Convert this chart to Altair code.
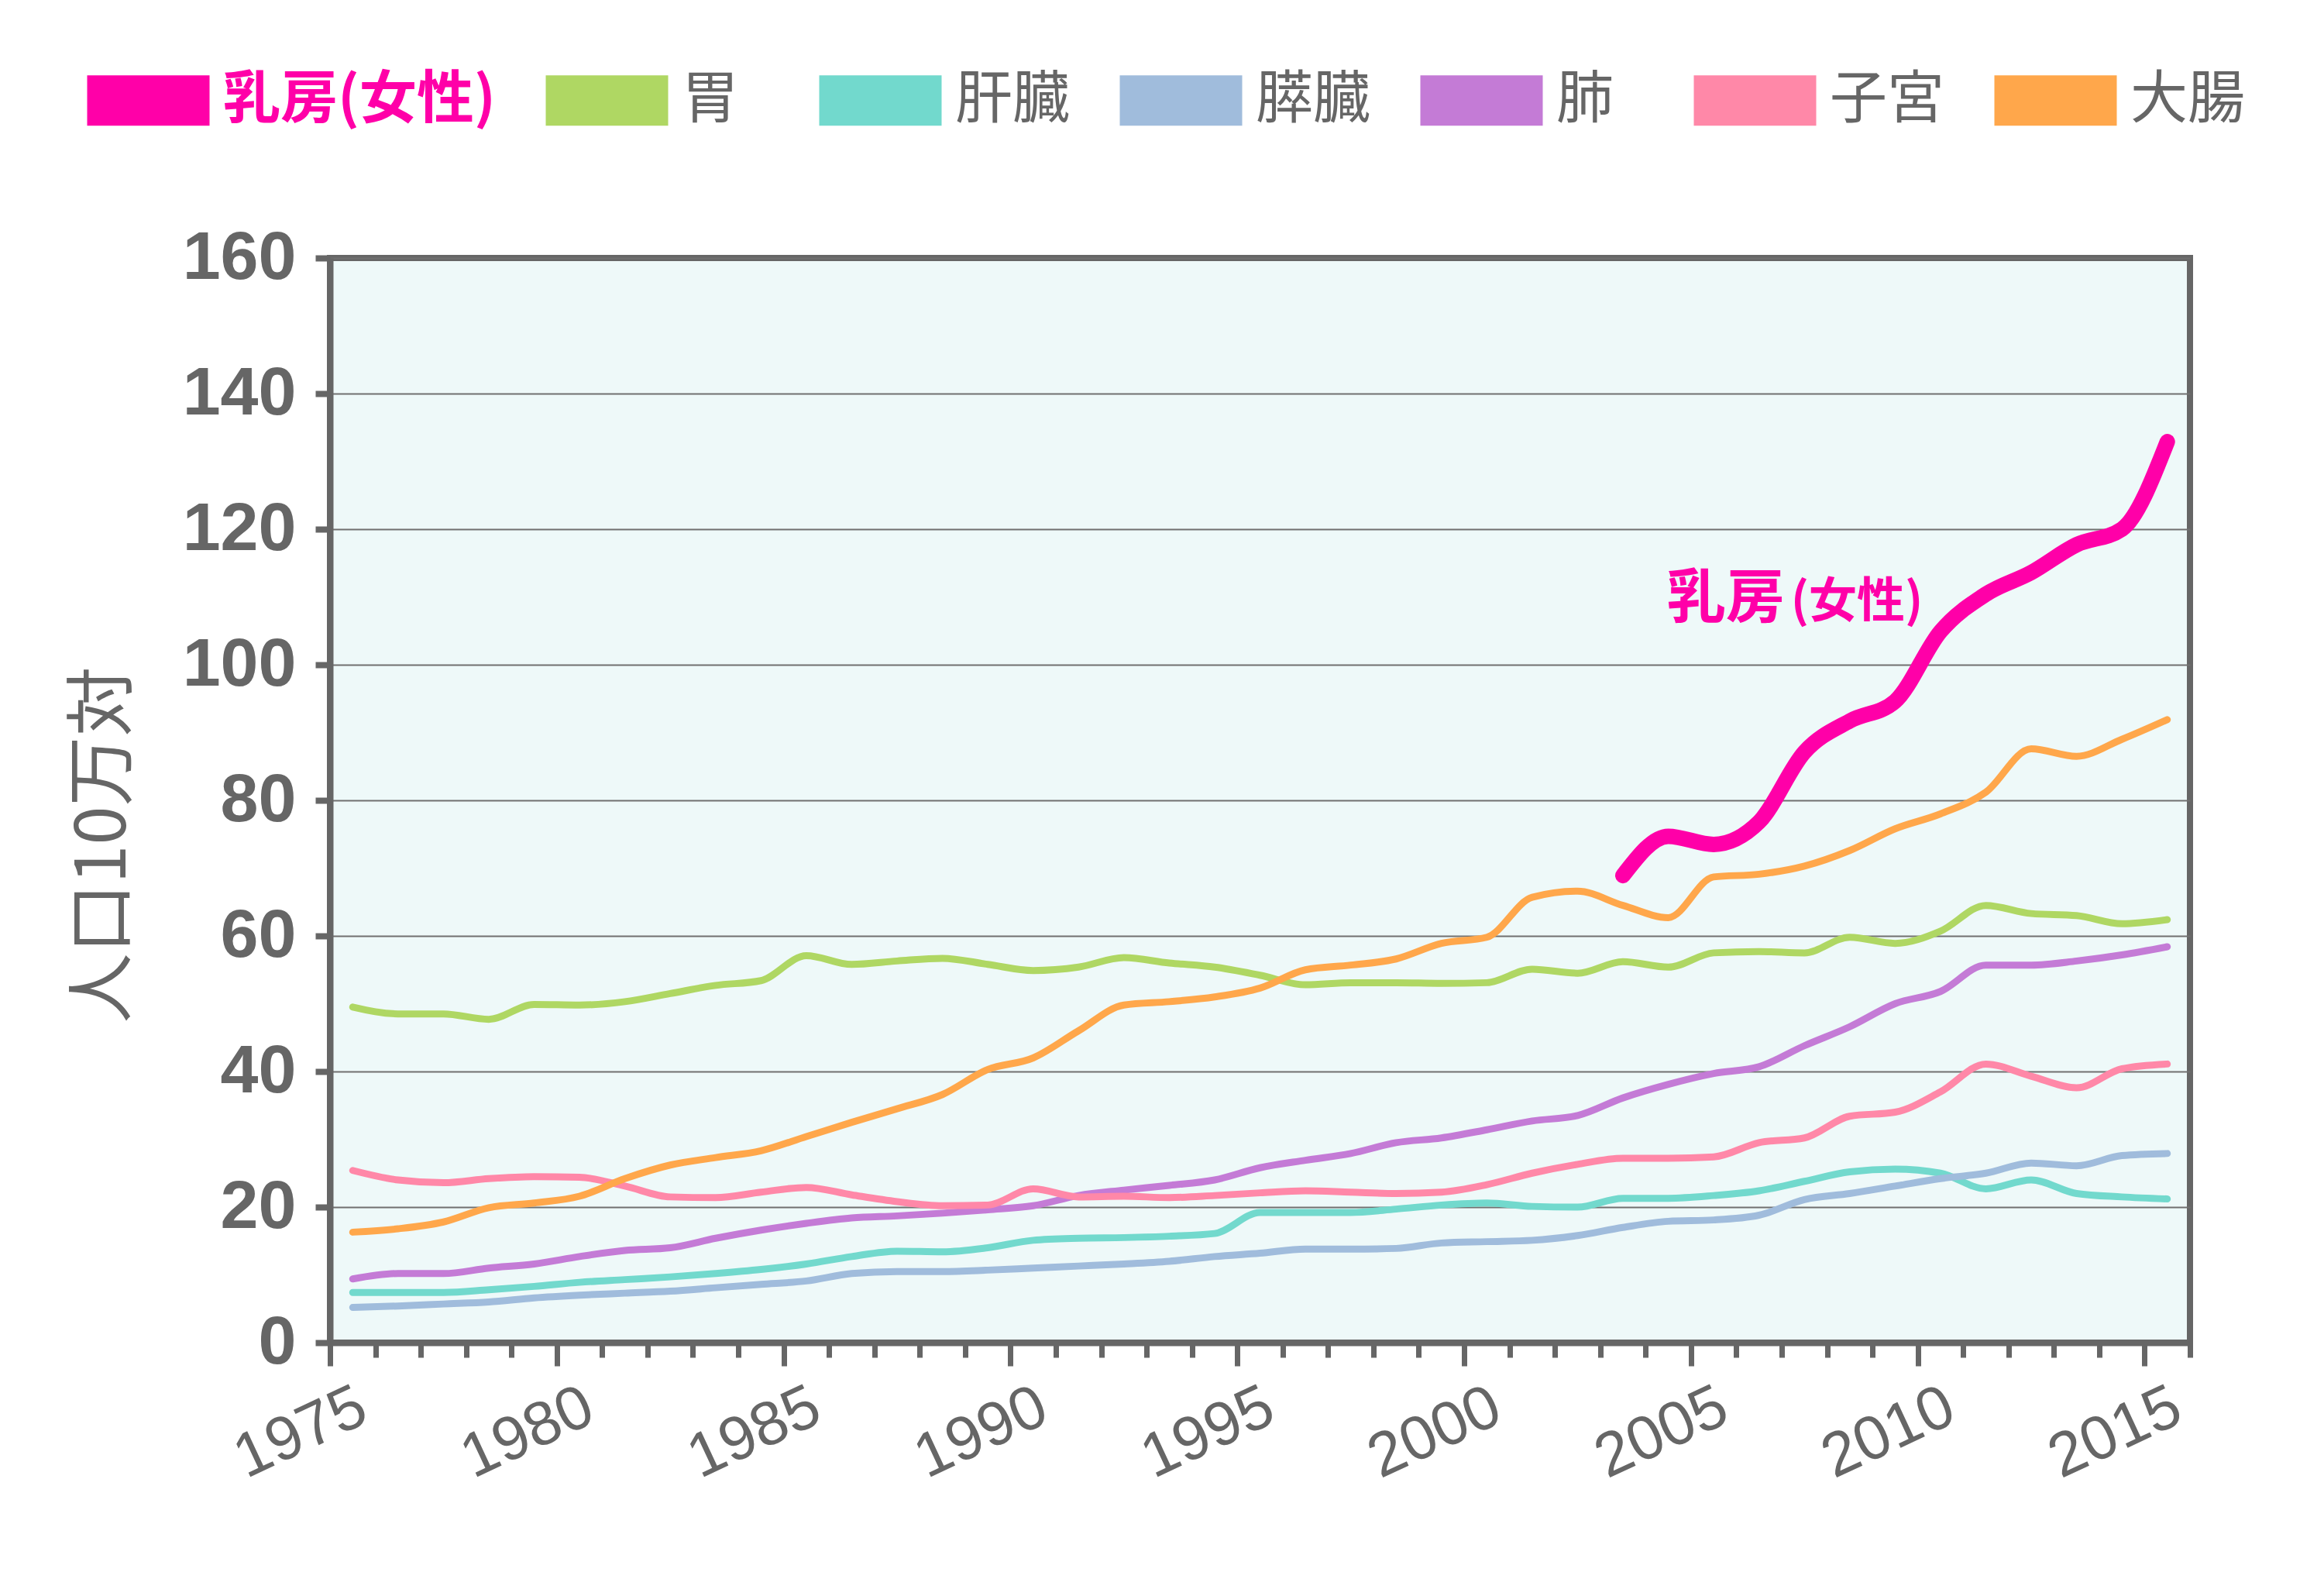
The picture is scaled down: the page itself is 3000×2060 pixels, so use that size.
import altair as alt
import pandas as pd

# ---------------- data ----------------
years = list(range(1975, 2016))
breast_years = list(range(2003, 2016))

organs = ["乳房(女性)", "胃", "肝臓", "膵臓", "肺", "子宮", "大腸"]
colors = ["#FF00A8", "#AFD763", "#72D9CD", "#A0BCDC", "#C47BD6", "#FF88A8", "#FFA74B"]

breast = [68.9, 74.7, 73.5, 76.8, 87.1, 91.7, 94.6, 104.9, 110.4, 113.6, 117.7, 120.0, 132.9]

stomach = [49.5, 48.5, 48.5, 47.7, 49.9, 49.8, 50.3, 51.5, 52.7, 53.4, 57.1, 55.8, 56.3, 56.7,
           55.8, 54.9, 55.4, 56.8, 56.0, 55.4, 54.2, 52.8,
           53.1, 53.1, 53.0, 53.1, 55.1, 54.5, 56.2, 55.4, 57.5, 57.7, 57.5, 59.8, 58.9, 60.7,
           64.5, 63.3, 63.0, 61.8, 62.4]
liver = [7.4, 7.4, 7.4, 7.8, 8.3, 8.9, 9.3, 9.7, 10.2, 10.8, 11.6, 12.7, 13.5, 13.4, 14.0,
         15.1, 15.4, 15.5, 15.7, 16.1, 19.2, 19.2,
         19.2, 19.7, 20.3, 20.6, 20.1, 20.0, 21.3, 21.3, 21.7, 22.4, 23.8, 25.2, 25.6, 25.0,
         22.7, 24.0, 22.0, 21.5, 21.2]
pancreas = [5.2, 5.4, 5.7, 6.0, 6.6, 7.0, 7.3, 7.6, 8.1, 8.6, 9.1, 10.2, 10.5, 10.5, 10.7,
            11.0, 11.3, 11.6, 12.0, 12.7, 13.2, 13.8,
            13.8, 13.9, 14.7, 14.9, 15.1, 15.8, 17.0, 17.9, 18.1, 18.8, 21.1, 22.0, 23.1, 24.2,
            25.0, 26.5, 26.1, 27.6, 27.9]
lung = [9.4, 10.2, 10.2, 11.0, 11.6, 12.7, 13.6, 14.0, 15.4, 16.6, 17.6, 18.4, 18.7, 19.1,
        19.6, 20.2, 21.7, 22.5, 23.2, 24.0, 25.8, 26.9,
        27.9, 29.5, 30.2, 31.4, 32.7, 33.5, 36.1, 38.1, 39.7, 40.7, 43.8, 46.6, 50.0, 51.8,
        55.7, 55.7, 56.3, 57.2, 58.4]
uterus = [25.4, 24.0, 23.6, 24.2, 24.5, 24.4, 23.1, 21.5, 21.4, 22.2, 22.9, 21.8, 20.8, 20.2,
          20.3, 22.7, 21.5, 21.6, 21.4, 21.7, 22.1, 22.4,
          22.2, 22.0, 22.2, 23.3, 25.0, 26.3, 27.2, 27.2, 27.4, 29.5, 30.2, 33.4, 34.0, 37.0,
          41.1, 39.3, 37.6, 40.4, 41.1]
colon = [16.3, 16.8, 17.8, 19.9, 20.6, 21.6, 24.2, 26.2, 27.3, 28.3, 30.4, 32.5, 34.5, 36.6,
         40.3, 42.0, 46.0, 49.8, 50.3, 51.0, 52.3, 55.0,
         55.7, 56.6, 58.9, 59.8, 65.7, 66.6, 64.5, 62.7, 68.7, 69.1, 70.3, 72.6, 75.8, 78.0,
         81.2, 87.6, 86.5, 89.0, 91.9]

x_ticks = list(range(1975, 2017))
y_ticks = list(range(0, 161, 20))

ann_main = ["乳房"]
ann_sub = ["(女性)"]
ann_main_x = [2004.47]
ann_sub_x = [2007.2]
ann_y = [107.0]

# ---------------- tables ----------------
series = {"胃": stomach, "肝臓": liver, "膵臓": pancreas, "肺": lung, "子宮": uterus, "大腸": colon}
rows = []
for name, vals in series.items():
    for yr, v in zip(years, vals):
        rows.append({"organ": name, "year": yr, "rate": v})
others_df = pd.DataFrame(rows)
breast_df = pd.DataFrame({"organ": [organs[0]] * len(breast_years), "year": breast_years, "rate": breast})
main_df = pd.DataFrame({"t": ann_main, "xpos": ann_main_x, "rate": ann_y})
sub_df = pd.DataFrame({"t": ann_sub, "xpos": ann_sub_x, "rate": ann_y})

GRAY = "#666666"
MAGENTA = colors[0]
NUM_FONT = "'Liberation Sans', Arial, sans-serif"
CJK_FONT = "'Noto Sans CJK JP', 'Noto Sans CJK SC', sans-serif"

xscale = alt.Scale(domain=[1975, 2016], nice=False, zero=False)
yscale = alt.Scale(domain=[0, 160], nice=False, zero=True)

x_enc = alt.X(
    "xpos:Q", scale=xscale,
    axis=alt.Axis(
        title=None, values=x_ticks, format="d",
        labelExpr="datum.value % 5 === 0 ? datum.label : ''",
        tickSize={"condition": {"test": "datum.value % 5 === 0", "value": 30}, "value": 19},
        tickWidth=7, tickColor=GRAY, domainColor=GRAY, domainWidth=8, grid=False,
        labelAngle=-25, labelAlign="right", labelBaseline="top",
        labelFont=NUM_FONT, labelFontSize=80, labelColor=GRAY, labelLimit=600,
        labelPadding=13, labelOffset=26, labelOverlap=False, labelFlush=False, labelBound=False,
    ),
)
y_enc = alt.Y(
    "rate:Q", scale=yscale,
    axis=alt.Axis(
        title="人口10万対", values=y_ticks, tickSize=19, tickWidth=8, tickColor=GRAY,
        domainColor=GRAY, domainWidth=8, grid=True, gridColor="#707070", gridWidth=2,
        labelFont=NUM_FONT, labelFontSize=88, labelFontWeight="bold", labelColor=GRAY,
        labelPadding=25, labelOverlap=False, labelLimit=600,
        titleFont=CJK_FONT, titleFontSize=90, titleFontWeight="normal", titleColor=GRAY,
        titleAngle=270, titleX=-292, titleY=757, titleAlign="center", titleBaseline="middle",
        titleLimit=1000,
    ),
)
color_enc = alt.Color(
    "organ:N", sort=organs,
    scale=alt.Scale(domain=organs, range=colors),
    legend=alt.Legend(
        title=None, orient="none", legendX=-346, legendY=-315, direction="horizontal",
        symbolType="stroke", symbolSize=24964, symbolStrokeWidth=65, symbolOpacity=1,
        labelFont=CJK_FONT, labelFontSize=74, labelLimit=0,
        labelColor=alt.expr("datum.label === '乳房(女性)' ? '#FF00A8' : '#666666'"),
        labelFontWeight=alt.expr("datum.label === '乳房(女性)' ? 'bold' : 'normal'"),
        labelOffset=alt.expr("-15"), columnPadding=alt.expr("-66"),
    ),
)

others = alt.Chart(others_df).transform_calculate(xpos="datum.year + 0.5").mark_line(
    strokeWidth=9, interpolate="monotone", strokeCap="round", strokeJoin="round"
).encode(x=x_enc, y=y_enc, color=color_enc)

breast_line = alt.Chart(breast_df).transform_calculate(xpos="datum.year + 0.5").mark_line(
    strokeWidth=20, interpolate="monotone", strokeCap="round", strokeJoin="round"
).encode(x=x_enc, y=y_enc, color=color_enc)

ann1 = alt.Chart(main_df).mark_text(
    font=CJK_FONT, fontSize=76, fontWeight="bold", color=MAGENTA, align="left", baseline="alphabetic"
).encode(x=x_enc, y=y_enc, text="t:N")
ann2 = alt.Chart(sub_df).mark_text(
    font=CJK_FONT, fontSize=62, fontWeight="bold", color=MAGENTA, align="left", baseline="alphabetic"
).encode(x=x_enc, y=y_enc, text="t:N")

chart = alt.layer(others, breast_line, ann1, ann2).properties(
    width=2401, height=1400,
    padding={"left": 426, "top": 333, "right": 173, "bottom": 327},
    autosize=alt.AutoSizeParams(type="none"),
    background="white",
).configure_view(fill="#EEF9F9", stroke=GRAY, strokeWidth=8)

chart.save("out.html", embed_options={"renderer": "svg", "actions": False})
